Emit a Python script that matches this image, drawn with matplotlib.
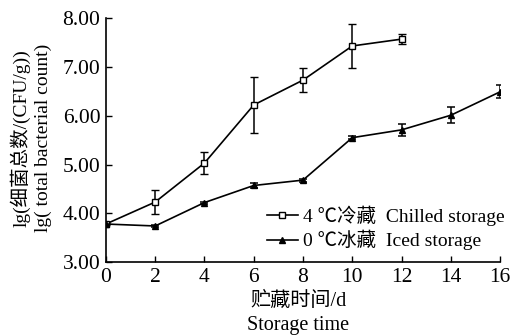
import matplotlib
matplotlib.use("Agg")
import matplotlib.pyplot as plt
from matplotlib.lines import Line2D

plt.rcParams['font.family'] = ['Liberation Serif', 'Noto Sans CJK SC']

# ---------------------------------------------------------------- data
days_chilled = [0, 2, 4, 6, 8, 10, 12]
chilled = [3.78, 4.23, 5.03, 6.22, 6.73, 7.43, 7.57]
chilled_err = [0.02, 0.24, 0.23, 0.57, 0.24, 0.46, 0.10]

days_iced = [0, 2, 4, 6, 8, 10, 12, 14, 16]
iced = [3.78, 3.74, 4.22, 4.57, 4.68, 5.55, 5.71, 6.01, 6.49]
iced_err = [0.02, 0.03, 0.02, 0.05, 0.03, 0.03, 0.12, 0.16, 0.13]

x_ticks = [0, 2, 4, 6, 8, 10, 12, 14, 16]
y_ticks = [3.0, 4.0, 5.0, 6.0, 7.0, 8.0]

# ---------------------------------------------------------------- plot
fig = plt.figure(figsize=(5.14, 3.36), dpi=100)
ax = fig.add_axes([0.206, 0.22, 0.767, 0.726])

sq = dict(marker='s', ms=4, mfc='white', mec='black', mew=1.0)
tri = dict(marker='^', ms=4.5, mfc='black', mec='black')

ax.errorbar(days_chilled, chilled, yerr=chilled_err, color='black', lw=1.2,
            capsize=3, elinewidth=1.1, capthick=1.1, **sq)
ax.errorbar(days_iced, iced, yerr=iced_err, color='black', lw=1.2,
            capsize=3, elinewidth=1.1, capthick=1.1, **tri)

ax.set_xlim(0, 16)
ax.set_ylim(3.0, 8.0)
ax.set_xticks(x_ticks)
ax.set_yticks(y_ticks)
ax.set_yticklabels([f"{v:.2f}" for v in y_ticks])
ax.tick_params(direction='in', length=4, width=1, labelsize=15.5)
ax.tick_params(axis='x', pad=4)
ax.tick_params(axis='y', pad=4)
ax.spines['top'].set_visible(False)
ax.spines['right'].set_visible(False)
for s in ('left', 'bottom'):
    ax.spines[s].set_linewidth(1.2)

fig.text(0.040, 0.59, 'lg(细菌总数/(CFU/g))', rotation=90,
         ha='center', va='center', fontsize=14)
fig.text(0.085, 0.59, 'lg( total bacterial count)', rotation=90,
         ha='center', va='center', fontsize=14)
fig.text(0.58, 0.103, '贮藏时间/d', ha='center', va='center', fontsize=14.5)
fig.text(0.58, 0.032, 'Storage time', ha='center', va='center', fontsize=14.5)

handles = [Line2D([], [], color='black', lw=1.2, **sq),
           Line2D([], [], color='black', lw=1.2, **tri)]
labels = ['4 ℃冷藏  Chilled storage', '0 ℃冰藏  Iced storage']
ax.legend(handles, labels, loc='lower right', bbox_to_anchor=(1.04, 0.0),
          frameon=False, fontsize=14, handlelength=1.6, handletextpad=0.25,
          labelspacing=0.2, borderaxespad=0.2)

fig.savefig('out.png', dpi=100)
